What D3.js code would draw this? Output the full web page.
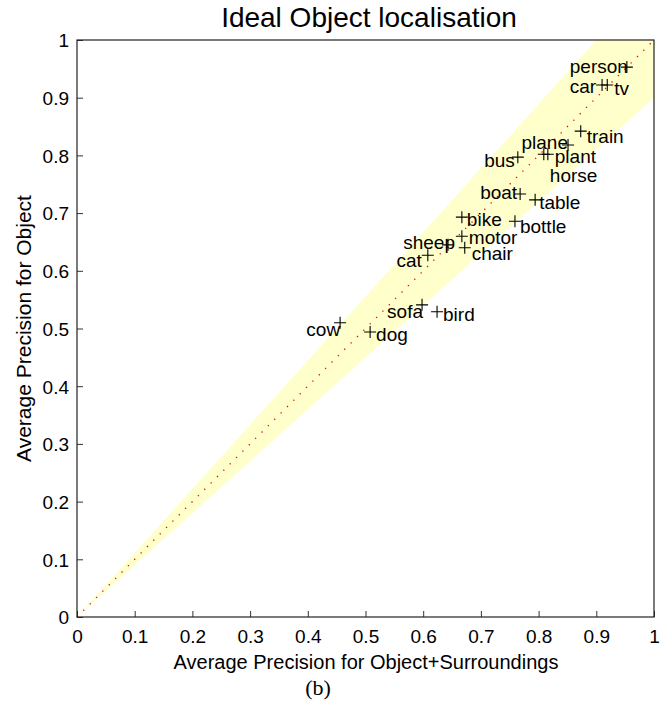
<!DOCTYPE html>
<html>
<head>
<meta charset="utf-8">
<script src="https://cdn.jsdelivr.net/npm/d3@7"></script>
<style>
  html, body { margin: 0; padding: 0; background: #fff; }
  svg text { font-family: "Liberation Sans", Arial, Helvetica, sans-serif; fill: #000; }
</style>
</head>
<body>
<svg id="chart" width="662" height="706"></svg>
<script>
// Object classes
const categories = ["person","car","tv","train","plane","plant","horse","bus","boat","table",
                    "bike","bottle","motor","chair","sheep","cat","sofa","bird","cow","dog"];
// Average precision using object + surroundings (x)
const apSurround = [0.953,0.910,0.919,0.873,0.851,0.809,0.816,0.764,0.768,0.794,
                    0.667,0.759,0.667,0.672,0.643,0.608,0.598,0.624,0.456,0.508];
// Average precision using object only (y)
const apObject   = [0.953,0.922,0.922,0.842,0.818,0.802,0.802,0.797,0.733,0.723,
                    0.693,0.686,0.660,0.640,0.645,0.627,0.541,0.529,0.510,0.494];
// Axis ticks
const tickValues = [0,0.1,0.2,0.3,0.4,0.5,0.6,0.7,0.8,0.9,1];
const tickLabels = ["0","0.1","0.2","0.3","0.4","0.5","0.6","0.7","0.8","0.9","1"];
// Tolerance band around the diagonal: y between 0.9·x and x/0.9
const bandRatio = 0.9;

// Label placement per class: anchor side and pixel offset from the marker
const labelPlacement = {
  person:["end",1,-1], car:["end",-6,1],   tv:["start",7,3],    train:["start",6,5],
  plane:["end",0,-3],  plant:["start",11,2], horse:["start",2,21], bus:["end",-3,3],
  boat:["end",-3,-2],  table:["start",4,3], bike:["start",5,2],  bottle:["start",5,5],
  motor:["start",7,1], chair:["start",7,6], sheep:["end",7,-2],  cat:["end",-6,5],
  sofa:["end",1,7],    bird:["start",6,3],  cow:["end",0,7],     dog:["start",6,3]
};

const svg = d3.select("#chart");
const L = 77, R = 654, T = 40, B = 617;
const x = d3.scaleLinear().domain([0,1]).range([L,R]);
const y = d3.scaleLinear().domain([0,1]).range([B,T]);

// Band polygon, clipped to the unit square
const bandPts = [[0,0],[bandRatio,1],[1,1],[1,bandRatio]];
svg.append("polygon")
  .attr("points", bandPts.map(p => [x(p[0]), y(p[1])].join(",")).join(" "))
  .attr("fill", "#ffffcc");

// Dotted diagonal y = x
svg.append("line")
  .attr("x1", x(0)).attr("y1", y(0)).attr("x2", x(1)).attr("y2", y(1))
  .attr("stroke", "#ff0000").attr("stroke-width", 1.3)
  .attr("stroke-dasharray", "1.3,7.7");

// Axes with inward ticks
const xAxis = d3.axisBottom(x).tickValues(tickValues)
  .tickFormat((d,i) => tickLabels[i]).tickSizeInner(-6).tickSizeOuter(0).tickPadding(13);
const yAxis = d3.axisLeft(y).tickValues(tickValues)
  .tickFormat((d,i) => tickLabels[i]).tickSizeInner(-6).tickSizeOuter(0).tickPadding(8);

const gx = svg.append("g").attr("transform", `translate(0,${B})`).call(xAxis);
const gy = svg.append("g").attr("transform", `translate(${L},0)`).call(yAxis);
[gx, gy].forEach(g => {
  g.select(".domain").remove();
  g.selectAll(".tick line").attr("stroke", "#333");
  g.selectAll(".tick text").attr("font-size", 19).attr("fill", "#000")
    .style("font-family", "'Liberation Sans', Arial, sans-serif");
});
gx.selectAll(".tick text").attr("dy", "0.71em");
gy.selectAll(".tick text").attr("dy", "0.36em");

// Box
svg.append("rect")
  .attr("x", L).attr("y", T).attr("width", R - L).attr("height", B - T)
  .attr("fill", "none").attr("stroke", "#222").attr("stroke-width", 1.2);

// Markers
const ms = 6;
const pts = categories.map((c,i) => ({c, sx: apSurround[i], oy: apObject[i]}));
const mk = svg.append("g");
pts.forEach(p => {
  const cx = x(p.sx), cy = y(p.oy);
  mk.append("path")
    .attr("d", `M${cx-ms},${cy}H${cx+ms}M${cx},${cy-ms}V${cy+ms}`)
    .attr("stroke", "#000").attr("stroke-width", 1.1).attr("fill", "none");
});

// Labels
svg.append("g").selectAll("text").data(pts).join("text")
  .attr("x", d => x(d.sx) + labelPlacement[d.c][1])
  .attr("y", d => y(d.oy) + labelPlacement[d.c][2])
  .attr("text-anchor", d => labelPlacement[d.c][0])
  .attr("dominant-baseline", "central")
  .attr("font-size", 19)
  .text(d => d.c);

// Titles
svg.append("text").attr("x", 369).attr("y", 27).attr("text-anchor", "middle")
  .attr("font-size", 28).text("Ideal Object localisation");
svg.append("text").attr("x", 366).attr("y", 669).attr("text-anchor", "middle")
  .attr("font-size", 20).text("Average Precision for Object+Surroundings");
svg.append("text").attr("transform", `translate(31,${(T+B)/2}) rotate(-90)`)
  .attr("text-anchor", "middle").attr("font-size", 21).text("Average Precision for Object");
svg.append("text").attr("x", 318).attr("y", 695).attr("text-anchor", "middle")
  .attr("font-size", 22).style("font-family", "'Liberation Serif', 'Times New Roman', serif")
  .text("(b)");
</script>
</body>
</html>
